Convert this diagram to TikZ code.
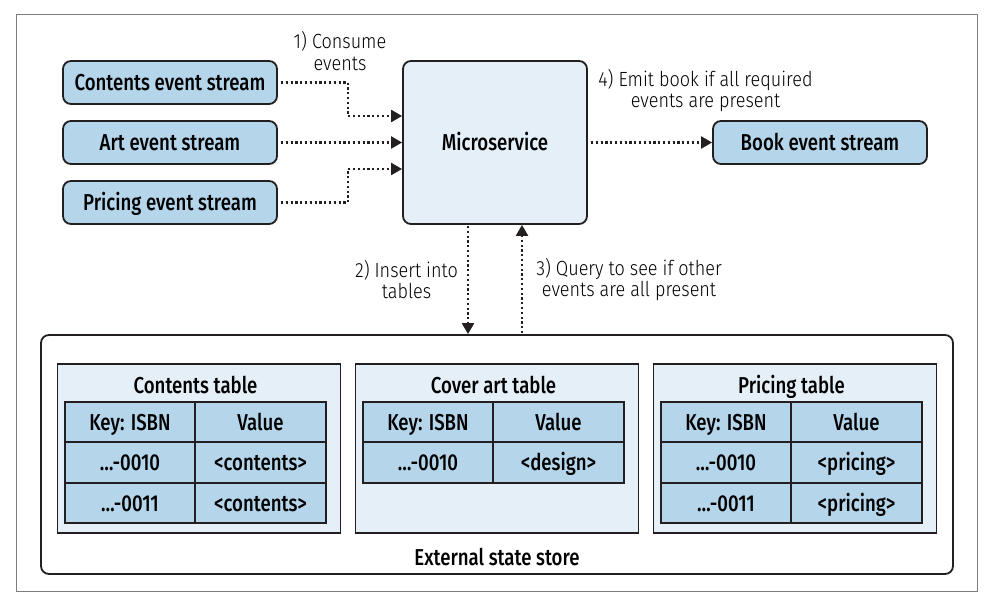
\documentclass[tikz,border=0pt]{standalone}
\usepackage{fontspec}
\setmainfont{Fira Sans Medium}[FakeStretch=0.81]
\newfontfamily\labelfont{Fira Sans Light}[FakeStretch=0.88]
\usepackage{tikz}
\usetikzlibrary{arrows.meta}
\definecolor{streamblue}{RGB}{181,213,235}
\definecolor{paleblue}{RGB}{228,239,248}
\definecolor{inkblack}{RGB}{35,31,32}
\definecolor{framegray}{RGB}{125,125,125}

\begin{document}
\begin{tikzpicture}[x=1pt,y=-1pt,>={Triangle[length=11pt,width=12pt]},
      flow/.style={->,draw=inkblack,line width=2.2pt,dash pattern=on 2.2pt off 2.6pt,shorten <=3pt},
      box text/.style={font=\fontsize{23}{25}\selectfont,text height=16pt,text depth=0pt},
      stream node/.style={box text,draw=inkblack,fill=streamblue,rounded corners=8pt,line width=1.8pt,
        minimum width=214pt,minimum height=43pt,inner sep=0pt},
      table box/.style={draw=inkblack,fill=paleblue,line width=1.8pt,minimum width=283pt,minimum height=169pt},
      cell node/.style={box text,draw=inkblack,fill=streamblue,line width=1.8pt,minimum width=130.5pt,
        minimum height=40.5pt,inner sep=0pt},
      step label/.style={align=center,font=\labelfont\fontsize{20.5}{21.5}\selectfont,inner sep=0pt},
      title node/.style={box text,inner sep=0pt}]

  \useasboundingbox (0,0) rectangle (992,605);
  \draw[framegray,line width=0.9pt] (16,14) rectangle (977,591);

  % event streams and the service
  \node[stream node] (contents) at (170,82.5) {Contents event stream};
  \node[stream node] (art) at (170,142.5) {Art event stream};
  \node[stream node] (pricing) at (170,202.5) {Pricing event stream};
  \node[box text,draw=inkblack,fill=paleblue,rounded corners=8pt,line width=1.8pt,minimum width=184pt,
    minimum height=163pt,inner sep=0pt] (micro) at (495,142.5) {Microservice};
  \node[stream node] (book) at (820,142.5) {Book event stream};

  % external state store
  \node[draw=inkblack,fill=white,rounded corners=8pt,line width=1.8pt,minimum width=912pt,
    minimum height=239pt] (store) at (497,454.5) {};
  \node[title node] (storetitle) at (497,557) {External state store};

  \node[table box] (contab) at (199,448.5) {};
  \node[table box] (artab) at (497,448.5) {};
  \node[table box] (pritab) at (795,448.5) {};
  \node[title node] (contitle) at (195.5,385) {Contents table};
  \node[title node] (arttitle) at (493.5,385) {Cover art table};
  \node[title node] (prititle) at (791.5,385) {Pricing table};

  \node[cell node] (c11) at (130,422) {Key: ISBN};
  \node[cell node] (c12) at (260.5,422) {Value};
  \node[cell node] (c21) at (130,462.5) {…-0010};
  \node[cell node] (c22) at (260.5,462.5) {<contents>};
  \node[cell node] (c31) at (130,503) {…-0011};
  \node[cell node] (c32) at (260.5,503) {<contents>};

  \node[cell node] (a11) at (428,422) {Key: ISBN};
  \node[cell node] (a12) at (558.5,422) {Value};
  \node[cell node] (a21) at (428,462.5) {…-0010};
  \node[cell node] (a22) at (558.5,462.5) {<design>};

  \node[cell node] (p11) at (726,422) {Key: ISBN};
  \node[cell node] (p12) at (856.5,422) {Value};
  \node[cell node] (p21) at (726,462.5) {…-0010};
  \node[cell node] (p22) at (856.5,462.5) {<pricing>};
  \node[cell node] (p31) at (726,503) {…-0011};
  \node[cell node] (p32) at (856.5,503) {<pricing>};

  % step labels
  \node[step label] (consume) at (340,51) {1) Consume\\events};
  \node[step label] (emit) at (705.5,90.5) {4) Emit book if all required\\events are present};
  \node[step label] (insert) at (406.5,279.5) {2) Insert into\\tables};
  \node[step label] (query) at (629,279.5) {3) Query to see if other\\events are all present};

  % connectors
  \draw[flow] (contents.east) -- (348,82.5) |- ([yshift=26.5pt]micro.west);
  \draw[flow] (art.east) -- (micro.west);
  \draw[flow] (pricing.east) -- (348,202.5) |- ([yshift=-26.5pt]micro.west);
  \draw[flow] (micro.east) -- (book.west);
  \draw[flow,shorten <=1pt] ([xshift=-27pt]micro.south) -- ([xshift=-27pt]micro.south |- store.north);
  \draw[flow,shorten <=1pt] ([xshift=27pt]micro.south |- store.north) -- ([xshift=27pt]micro.south);
\end{tikzpicture}
\end{document}
